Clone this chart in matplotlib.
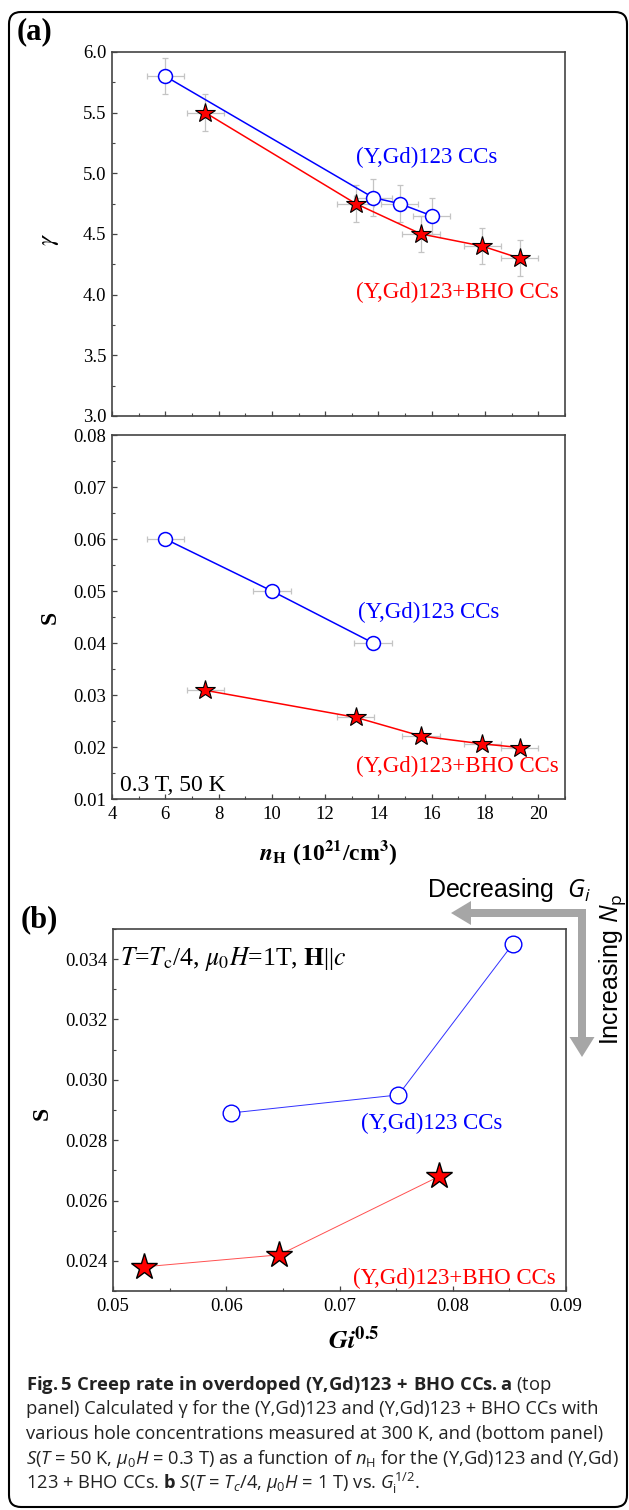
import matplotlib
matplotlib.use("Agg")
import matplotlib.pyplot as plt
from matplotlib.patches import FancyBboxPatch, FancyArrow
from matplotlib.ticker import MultipleLocator, FormatStrFormatter

# panel (a) top: anisotropy gamma vs hole concentration
nh_gam_pure = [6.0, 13.8, 14.8, 16.0]
gam_pure = [5.80, 4.80, 4.75, 4.65]
nh_gam_bho = [7.5, 13.15, 15.6, 17.9, 19.3]
gam_bho = [5.50, 4.75, 4.50, 4.40, 4.30]
nh_err_pure = [0.7, 0.7, 0.7, 0.7]
nh_err_bho = [0.7, 0.7, 0.7, 0.7, 0.7]
gam_err_pure = [0.15, 0.15, 0.15, 0.15]
gam_err_bho = [0.15, 0.15, 0.15, 0.15, 0.15]

# panel (a) bottom: creep rate S vs hole concentration
nh_s_pure = [6.0, 10.0, 13.8]
s_pure = [0.060, 0.050, 0.040]
nh_s_bho = [7.5, 13.15, 15.6, 17.9, 19.3]
s_bho = [0.0309, 0.0257, 0.0221, 0.0206, 0.0199]

# panel (b): S vs Gi^0.5
gi_pure = [0.0604, 0.0752, 0.0853]
sb_pure = [0.0289, 0.0295, 0.0345]
gi_bho = [0.0527, 0.0647, 0.0788]
sb_bho = [0.0238, 0.0242, 0.0268]

W, H = 629, 1510
plt.rcParams['font.family'] = ['Liberation Serif', 'DejaVu Serif']
plt.rcParams['mathtext.fontset'] = 'custom'
plt.rcParams['mathtext.rm'] = 'Open Sans'
plt.rcParams['mathtext.it'] = 'Open Sans:italic'
plt.rcParams['mathtext.bf'] = 'Open Sans:bold'

fig = plt.figure(figsize=(W / 100, H / 100), dpi=100)


def fx(px):
    return px / W


def fy(py):
    return 1 - py / H


def add_ax(left, top, right, bottom):
    return fig.add_axes([left / W, 1 - bottom / H, (right - left) / W, (bottom - top) / H])


def style(ax):
    for s in ax.spines.values():
        s.set_color('#444444')
        s.set_linewidth(1.2)
    ax.tick_params(which='both', direction='in', top=False, right=False,
                   color='#444444', labelsize=13.5, pad=4)
    ax.tick_params(which='major', length=3.5, width=0.9)
    ax.tick_params(which='minor', length=2.2, width=0.8)


ecol = '#c4c4c4'
lab_fs = 16.5

# ---- top panel
ax1 = add_ax(112, 52, 565, 416)
ax1.errorbar(nh_gam_pure, gam_pure, xerr=nh_err_pure, yerr=gam_err_pure, fmt='none',
             ecolor=ecol, elinewidth=0.9, capsize=2.5, capthick=0.9, zorder=1)
ax1.errorbar(nh_gam_bho, gam_bho, xerr=nh_err_bho, yerr=gam_err_bho, fmt='none',
             ecolor=ecol, elinewidth=0.9, capsize=2.5, capthick=0.9, zorder=1)
ax1.plot(nh_gam_pure, gam_pure, '-', color='blue', lw=1.1, zorder=2)
ax1.plot(nh_gam_bho, gam_bho, '-', color='red', lw=1.1, zorder=2)
ax1.plot(nh_gam_pure, gam_pure, 'o', mfc='white', mec='blue', ms=10, mew=1.1, zorder=3)
ax1.plot(nh_gam_bho, gam_bho, '*', mfc='red', mec='black', ms=15, mew=0.8, zorder=3)
ax1.set_xlim(4, 21)
ax1.set_ylim(3.0, 6.0)
ax1.xaxis.set_major_locator(MultipleLocator(2))
ax1.xaxis.set_minor_locator(MultipleLocator(1))
ax1.yaxis.set_major_locator(MultipleLocator(0.5))
ax1.yaxis.set_minor_locator(MultipleLocator(0.25))
ax1.yaxis.set_major_formatter(FormatStrFormatter('%.1f'))
style(ax1)
ax1.tick_params(labelbottom=False)
ax1.text(13.17, 5.13, '(Y,Gd)123 CCs', color='blue', fontsize=lab_fs, va='center')
ax1.text(13.17, 4.02, '(Y,Gd)123+BHO CCs', color='red', fontsize=lab_fs, va='center')

# ---- bottom panel
ax2 = add_ax(112, 435, 565, 799)
ax2.errorbar(nh_s_pure, s_pure, xerr=nh_err_pure[:3], fmt='none',
             ecolor=ecol, elinewidth=0.9, capsize=2.5, capthick=0.9, zorder=1)
ax2.errorbar(nh_s_bho, s_bho, xerr=nh_err_bho, fmt='none',
             ecolor=ecol, elinewidth=0.9, capsize=2.5, capthick=0.9, zorder=1)
ax2.plot(nh_s_pure, s_pure, '-', color='blue', lw=1.1, zorder=2)
ax2.plot(nh_s_bho, s_bho, '-', color='red', lw=1.1, zorder=2)
ax2.plot(nh_s_pure, s_pure, 'o', mfc='white', mec='blue', ms=10, mew=1.1, zorder=3)
ax2.plot(nh_s_bho, s_bho, '*', mfc='red', mec='black', ms=15, mew=0.8, zorder=3)
ax2.set_xlim(4, 21)
ax2.set_ylim(0.01, 0.08)
ax2.xaxis.set_major_locator(MultipleLocator(2))
ax2.xaxis.set_minor_locator(MultipleLocator(1))
ax2.yaxis.set_major_locator(MultipleLocator(0.01))
ax2.yaxis.set_minor_locator(MultipleLocator(0.005))
ax2.yaxis.set_major_formatter(FormatStrFormatter('%.2f'))
style(ax2)
ax2.tick_params(axis='x', pad=5)
ax2.text(13.25, 0.0458, '(Y,Gd)123 CCs', color='blue', fontsize=lab_fs, va='center')
ax2.text(13.17, 0.0162, '(Y,Gd)123+BHO CCs', color='red', fontsize=lab_fs, va='center')
ax2.text(4.3, 0.0126, '0.3 T, 50 K', color='black', fontsize=17, va='center')

# ---- panel (b)
ax3 = add_ax(113, 929, 566, 1291)
ax3.plot(gi_pure, sb_pure, '-', color='#3030ff', lw=0.7, zorder=2)
ax3.plot(gi_bho, sb_bho, '-', color='#ff5050', lw=0.7, zorder=2)
ax3.plot(gi_pure, sb_pure, 'o', mfc='white', mec='blue', ms=12, mew=1.0, zorder=3)
ax3.plot(gi_bho, sb_bho, '*', mfc='red', mec='black', ms=20, mew=1.0, zorder=3)
ax3.set_xlim(0.05, 0.09)
ax3.set_ylim(0.023, 0.035)
ax3.xaxis.set_major_locator(MultipleLocator(0.01))
ax3.xaxis.set_minor_locator(MultipleLocator(0.005))
ax3.yaxis.set_major_locator(MultipleLocator(0.002))
ax3.yaxis.set_minor_locator(MultipleLocator(0.001))
ax3.xaxis.set_major_formatter(FormatStrFormatter('%.2f'))
ax3.yaxis.set_major_formatter(FormatStrFormatter('%.3f'))
style(ax3)
ax3.tick_params(axis='x', pad=5)
ax3.text(0.0719, 0.02857, '(Y,Gd)123 CCs', color='blue', fontsize=lab_fs, va='center')
ax3.text(0.0712, 0.0234, '(Y,Gd)123+BHO CCs', color='red', fontsize=lab_fs, va='center')
ax3.text(0.0506, 0.0340, r'$T$=$T_{\rm c}$/4, $\mu_0H$=1T, $\mathbf{H}$||$c$', fontsize=18.5,
         va='center', math_fontfamily='stix')

# axis labels and panel letters
fig.text(fx(35), fy(32), '(a)', fontsize=22, fontweight='bold', ha='center', va='center')
fig.text(fx(39), fy(920), '(b)', fontsize=22, fontweight='bold', ha='center', va='center')
fig.text(fx(50), fy(240), r'$\gamma$', fontsize=18, rotation=90, ha='center', va='center',
         math_fontfamily='stix')
fig.text(fx(50), fy(617), 'S', fontsize=17, fontweight='bold', rotation=90, ha='center', va='center')
fig.text(fx(42), fy(1113), 'S', fontsize=17, fontweight='bold', rotation=90, ha='center', va='center')
fig.text(fx(328), fy(853), r'$\mathbfit{n}_{\mathbf{H}}$ (10$^{\mathbf{21}}$/cm$^{\mathbf{3}}$)',
         fontsize=17, fontweight='bold', ha='center', va='center', math_fontfamily='stix')
fig.text(fx(354), fy(1340), r'$\mathbfit{Gi}^{\mathbf{0.5}}$', fontsize=19,
         ha='center', va='center', math_fontfamily='stix')

# grey arrows and their labels
acol = '#a6a6a6'
fig.add_artist(FancyArrow(5.86, (H - 913) / 100, -(586 - 451) / 100, 0, width=0.08,
                          head_width=0.24, head_length=0.20, length_includes_head=True,
                          transform=fig.dpi_scale_trans, color=acol, lw=0))
fig.add_artist(FancyArrow(5.82, (H - 909) / 100, 0, -(1057 - 909) / 100, width=0.08,
                          head_width=0.25, head_length=0.20, length_includes_head=True,
                          transform=fig.dpi_scale_trans, color=acol, lw=0))
fig.text(fx(427), fy(890), r'Decreasing  $G_i$', family='Liberation Sans', fontsize=18,
         ha='left', va='center')
fig.text(fx(612), fy(969), r'Increasing $N_{\rm p}$', family='Liberation Sans', fontsize=18,
         rotation=90, ha='center', va='center')

# caption
cap = [
    r'$\mathbf{Fig.5\ Creep\ rate\ in\ overdoped\ (Y{,}Gd)123\,+\,BHO\ CCs.a}$ (top',
    r'panel) Calculated γ for the (Y,Gd)123 and (Y,Gd)123 + BHO CCs with',
    r'various hole concentrations measured at 300 K, and (bottom panel)',
    r'$S$($T$ = 50 K, $\mu_0H$ = 0.3 T) as a function of $n_{\rm H}$ for the (Y,Gd)123 and (Y,Gd)',
    r'123 + BHO CCs. $\mathbf{b}$ $S$($T$ = $T_c$/4, $\mu_0H$ = 1 T) vs. $G_{\rm i}^{1/2}$.',
]
for i, line in enumerate(cap):
    fig.text(fx(26), fy(1385 + 24.5 * i), line, family='Open Sans', fontsize=13.2,
             color='#222222', ha='left', va='center')

# rounded frame around figure and caption
fig.add_artist(FancyBboxPatch((0.09, 0.03), 6.18, 14.95, boxstyle='round,pad=0,rounding_size=0.12',
                              transform=fig.dpi_scale_trans, fill=False, lw=1.5, ec='black'))

fig.savefig('out.png', dpi=100)
